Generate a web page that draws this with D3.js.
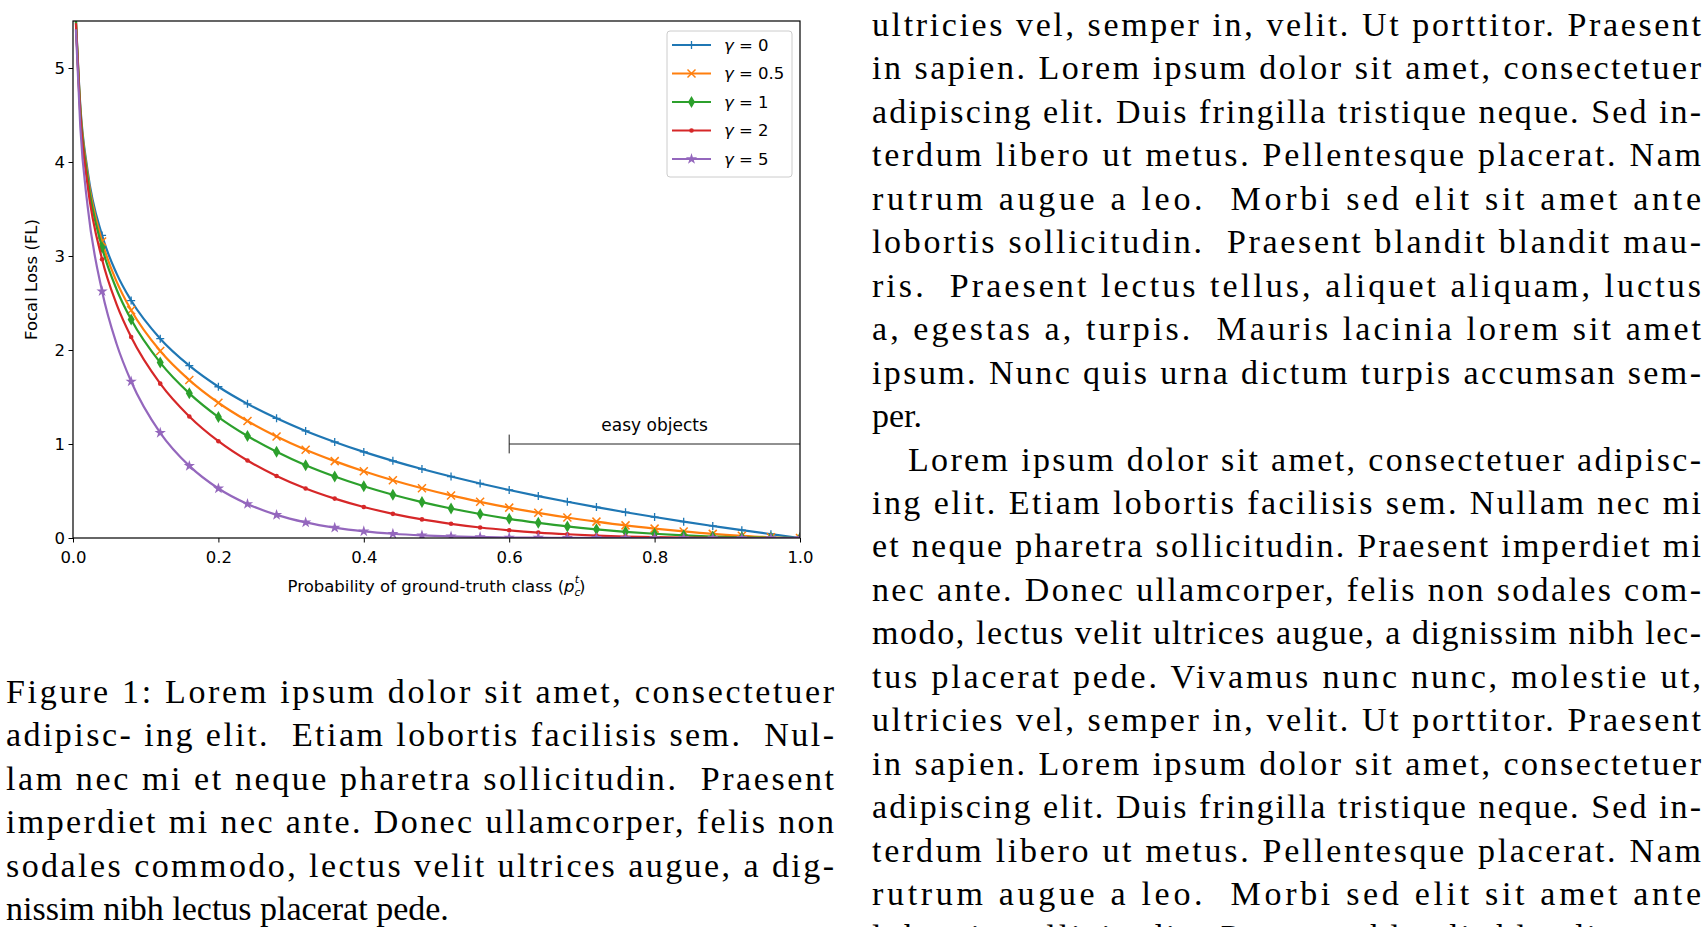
<!DOCTYPE html>
<html><head><meta charset="utf-8">
<script src="https://cdn.jsdelivr.net/npm/d3@7/dist/d3.min.js"></script>
<style>body{margin:0;background:#fff}svg{display:block}</style>
</head><body><svg id="c" width="1706" height="927"></svg>
<script>
const probs=[0.004,0.01,0.02,0.04,0.06,0.08,0.12,0.16,0.20,0.24,0.28,0.32,0.36,0.40,0.44,0.48,0.52,0.56,0.60,0.64,0.68,0.72,0.76,0.80,0.84,0.88,0.92,0.96,1.0];
const gammaLabels=["0","0.5","1","2","5"];
const fl_g0=[5.521,4.605,3.912,3.219,2.813,2.526,2.120,1.833,1.609,1.427,1.273,1.139,1.022,0.916,0.821,0.734,0.654,0.580,0.511,0.446,0.386,0.329,0.274,0.223,0.174,0.128,0.083,0.041,0];
const fl_g05=[5.510,4.582,3.873,3.154,2.727,2.423,1.989,1.680,1.439,1.244,1.080,0.939,0.818,0.710,0.614,0.529,0.453,0.385,0.323,0.268,0.218,0.174,0.134,0.100,0.070,0.044,0.024,0.008,0];
const fl_g1=[5.499,4.559,3.834,3.090,2.644,2.324,1.866,1.539,1.287,1.085,0.917,0.774,0.654,0.550,0.460,0.382,0.314,0.255,0.204,0.161,0.123,0.092,0.066,0.045,0.028,0.015,0.007,0.002,0];
const fl_g2=[5.477,4.513,3.757,2.966,2.486,2.138,1.642,1.293,1.030,0.824,0.660,0.527,0.419,0.330,0.257,0.198,0.151,0.112,0.082,0.058,0.040,0.026,0.016,0.009,0.0045,0.0018,0.0005,0.0001,0];
const fl_g5=[5.412,4.379,3.536,2.625,2.064,1.665,1.119,0.767,0.527,0.362,0.246,0.166,0.110,0.071,0.045,0.028,0.017,0.010,0.005,0.003,0.001,0.0006,0.0002,0.0001,0,0,0,0,0];
const xTicks=[0,0.2,0.4,0.6,0.8,1.0];
const yTicks=[0,1,2,3,4,5];
const colors=["#1f77b4","#ff7f0e","#2ca02c","#d62728","#9467bd"];
const markers=["plus","x","diamond","point","star"];
const series=[fl_g0,fl_g05,fl_g1,fl_g2,fl_g5];

const rightLines=[
["ultricies vel, semper in, velit. Ut porttitor. Praesent",1],
["in sapien. Lorem ipsum dolor sit amet, consectetuer",1],
["adipiscing elit. Duis fringilla tristique neque. Sed in-",1],
["terdum libero ut metus. Pellentesque placerat. Nam",1],
["rutrum augue a leo.  Morbi sed elit sit amet ante",1],
["lobortis sollicitudin.  Praesent blandit blandit mau-",1],
["ris.  Praesent lectus tellus, aliquet aliquam, luctus",1],
["a, egestas a, turpis.  Mauris lacinia lorem sit amet",1],
["ipsum. Nunc quis urna dictum turpis accumsan sem-",1],
["per.",0],
["Lorem ipsum dolor sit amet, consectetuer adipisc-",2],
["ing elit. Etiam lobortis facilisis sem. Nullam nec mi",1],
["et neque pharetra sollicitudin. Praesent imperdiet mi",1],
["nec ante. Donec ullamcorper, felis non sodales com-",1],
["modo, lectus velit ultrices augue, a dignissim nibh lec-",1],
["tus placerat pede. Vivamus nunc nunc, molestie ut,",1],
["ultricies vel, semper in, velit. Ut porttitor. Praesent",1],
["in sapien. Lorem ipsum dolor sit amet, consectetuer",1],
["adipiscing elit. Duis fringilla tristique neque. Sed in-",1],
["terdum libero ut metus. Pellentesque placerat. Nam",1],
["rutrum augue a leo.  Morbi sed elit sit amet ante",1],
["lobortis sollicitudin. Praesent blandit blandit mau-",1]];
const captionLines=[
["Figure 1: Lorem ipsum dolor sit amet, consectetuer",1],
["adipisc- ing elit.  Etiam lobortis facilisis sem.  Nul-",1],
["lam nec mi et neque pharetra sollicitudin.  Praesent",1],
["imperdiet mi nec ante. Donec ullamcorper, felis non",1],
["sodales commodo, lectus velit ultrices augue, a dig-",1],
["nissim nibh lectus placerat pede.",0]];

const svg=d3.select("#c");
const L=73,R=800,T=21,B=538;
const x=d3.scaleLinear().domain([0,1]).range([L,R]);
const y=d3.scaleLinear().domain([0,5.5]).range([B,T]);
svg.append("defs").append("clipPath").attr("id","clip").append("rect").attr("x",L).attr("y",T).attr("width",R-L).attr("height",B-T);
const g=svg.append("g").attr("clip-path","url(#clip)");
const line=d3.line().x((d,i)=>x(probs[i])).y(d=>y(d)).curve(d3.curveMonotoneX);
function marker(sel,type,c){
  if(type==="plus"){sel.append("path").attr("d","M-4,0H4M0,-4V4").attr("stroke",c).attr("stroke-width",1.3);}
  else if(type==="x"){sel.append("path").attr("d","M-4,-4L4,4M-4,4L4,-4").attr("stroke",c).attr("stroke-width",1.5);}
  else if(type==="diamond"){sel.append("path").attr("d","M0,-6L3.5,0L0,6L-3.5,0Z").attr("fill",c);}
  else if(type==="point"){sel.append("circle").attr("r",2.3).attr("fill",c);}
  else {sel.append("path").attr("d",d3.symbol(d3.symbolStar,40)()).attr("fill",c);}
}
series.forEach((s,k)=>{
  g.append("path").attr("d",line(s)).attr("fill","none").attr("stroke",colors[k]).attr("stroke-width",2.2);
  s.forEach((v,i)=>{
    const p=probs[i];
    if(p<0.03) return;
    if(Math.abs(p/0.04-Math.round(p/0.04))>1e-6) return;
    marker(g.append("g").attr("transform",`translate(${x(p)},${y(v)})`),markers[k],colors[k]);
  });
});
svg.append("line").attr("x1",x(0.6)).attr("x2",x(1)).attr("y1",y(1)).attr("y2",y(1)).attr("stroke","#222").attr("stroke-width",1);
svg.append("line").attr("x1",x(0.6)).attr("x2",x(0.6)).attr("y1",y(1.1)).attr("y2",y(0.9)).attr("stroke","#222").attr("stroke-width",1);
svg.append("text").attr("x",x(0.8)).attr("y",y(1.14)).attr("text-anchor","middle").attr("font-family","DejaVu Sans").attr("font-size",17).text("easy objects");
const ax=svg.append("g").attr("transform",`translate(0,${B})`).call(d3.axisBottom(x).tickValues(xTicks).tickFormat(d3.format(".1f")).tickSize(4.5));
const ay=svg.append("g").attr("transform",`translate(${L},0)`).call(d3.axisLeft(y).tickValues(yTicks).tickFormat(d3.format("d")).tickSize(4.5));
[ax,ay].forEach(a=>{a.select(".domain").remove();a.selectAll("text").attr("font-family","DejaVu Sans").attr("font-size",16.5).attr("fill","#000");a.selectAll("line").attr("stroke","#000");});
ax.selectAll("text").attr("dy","1.05em");
ay.selectAll("text").attr("x",-8);
svg.append("rect").attr("x",L).attr("y",T).attr("width",R-L).attr("height",B-T).attr("fill","none").attr("stroke","#000").attr("stroke-width",1.2);
svg.append("text").attr("transform",`translate(37,${(T+B)/2}) rotate(-90)`).attr("text-anchor","middle").attr("font-family","DejaVu Sans").attr("font-size",16.5).text("Focal Loss (FL)");
const xl=svg.append("text").attr("x",(L+R)/2).attr("y",592).attr("text-anchor","middle").attr("font-family","DejaVu Sans").attr("font-size",16.5);
xl.append("tspan").text("Probability of ground-truth class (");
xl.append("tspan").attr("font-style","italic").text("p");
xl.append("tspan").attr("font-style","italic").attr("font-size",11).attr("dy",4).text("c");
xl.append("tspan").attr("font-style","italic").attr("font-size",11).attr("dx",-6).attr("dy",-13).text("t");
xl.append("tspan").attr("dy",9).text(")");
svg.append("rect").attr("x",667).attr("y",31).attr("width",125).attr("height",146).attr("rx",3).attr("fill","#fff").attr("stroke","#ccc");
gammaLabels.forEach((lab,k)=>{
  const yy=45+k*28.5;
  svg.append("line").attr("x1",672).attr("x2",711).attr("y1",yy).attr("y2",yy).attr("stroke",colors[k]).attr("stroke-width",2.2);
  marker(svg.append("g").attr("transform",`translate(691.5,${yy})`),markers[k],colors[k]);
  const t=svg.append("text").attr("x",724).attr("y",yy+5.5).attr("font-family","DejaVu Sans").attr("font-size",16.5);
  t.append("tspan").attr("font-style","italic").text("γ");
  t.append("tspan").text(" = "+lab);
});
function block(lines,x0,x1,y0,step,indent){
  lines.forEach((l,i)=>{
    const xs=l[1]===2?x0+indent:x0;
    const t=svg.append("text").attr("x",xs).attr("y",y0+i*step).attr("font-family","Liberation Serif").attr("font-size",34).attr("xml:space","preserve").text(l[0]);
    if(l[1]) t.attr("textLength",x1-xs).attr("lengthAdjust","spacing");
  });
}
block(rightLines,872,1701,36,43.45,36);
block(captionLines,6,834,703,43.4,0);
</script></body></html>
